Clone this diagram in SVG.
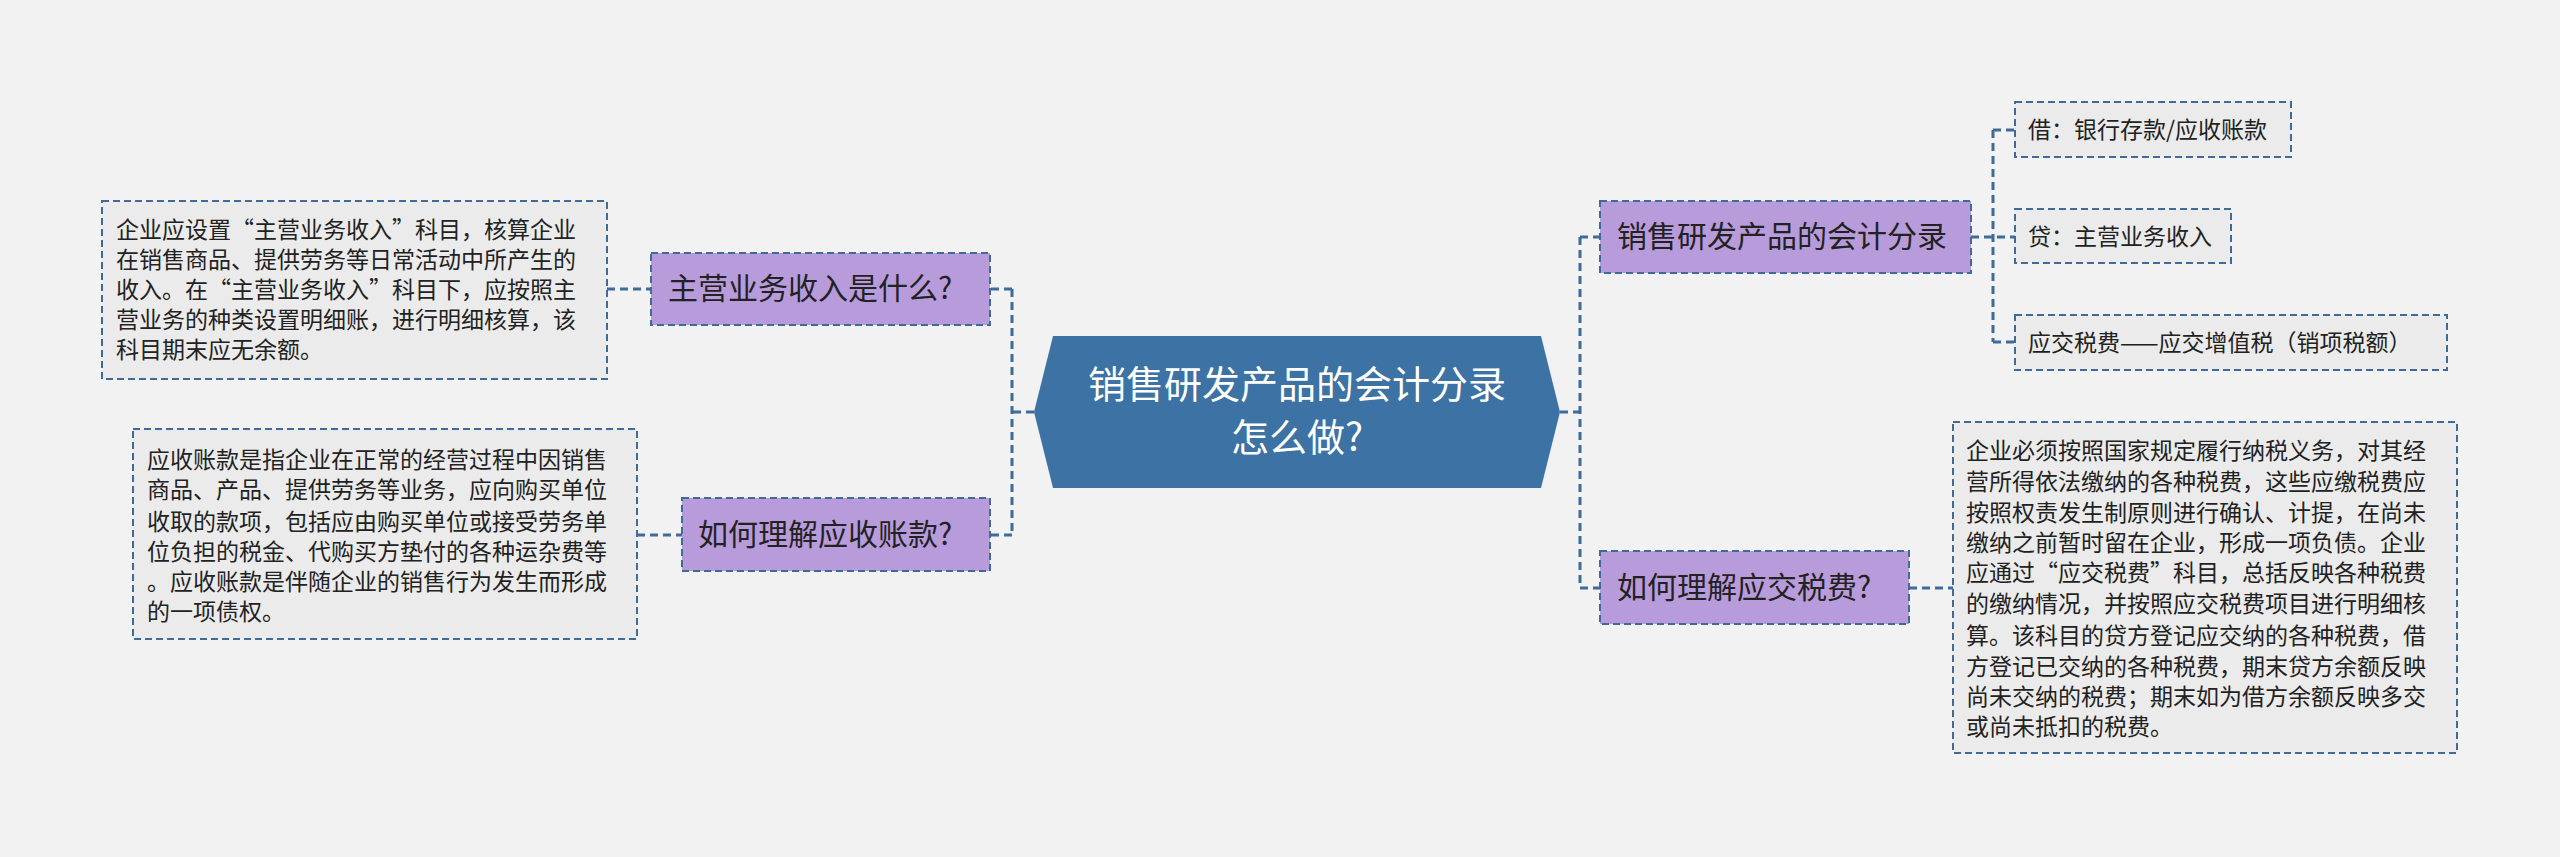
<svg xmlns="http://www.w3.org/2000/svg" width="2560" height="857" viewBox="0 0 2560 857">
<style>
text{font-family:"Noto Sans CJK SC","Noto Sans",sans-serif;fill:#222}
.n{fill:#b89bdb;stroke:#3e6b9a;stroke-width:2;stroke-dasharray:7 4}
.b{fill:#ebebeb;stroke:#3e6b9a;stroke-width:2;stroke-dasharray:7 4}
.c{fill:none;stroke:#3e6b9a;stroke-width:3;stroke-dasharray:8 5}
.t{font-size:23px}
.l{font-size:30px}
</style>
<rect width="2560" height="857" fill="#f2f2f3"/>
<g id="connectors">
<path class="c" d="M1034 412H1012M1012 289V535M1012 289H990M1012 535H990"/>
<path class="c" d="M1560 412H1580M1580 237V588M1580 237H1600M1580 588H1600"/>
<path class="c" d="M607 289H651M637 535H682M1909 588H1953"/>
<path class="c" d="M1971 237H2015M1993 130V342M1993 130H2015M1993 342H2015"/>
</g>
<g id="center">
<polygon points="1053,336 1541,336 1560,412 1541,488 1053,488 1034,412" fill="#3d72a4"/>
<text x="1297" y="398" text-anchor="middle" style="font-size:38px;fill:#fff">销售研发产品的会计分录</text>
<text x="1297" y="451" text-anchor="middle" style="font-size:38px;fill:#fff">怎么做?</text>
</g>
<g id="n1">
<rect class="n" x="651" y="253" width="339" height="72"/>
<text class="l" x="668" y="299">主营业务收入是什么?</text>
</g>
<g id="b1">
<rect class="b" x="102" y="201" width="505" height="178"/>
<text class="t"><tspan x="116" y="238">企业应设置“主营业务收入”科目，核算企业</tspan><tspan x="116" y="268">在销售商品、提供劳务等日常活动中所产生的</tspan><tspan x="116" y="298">收入。在“主营业务收入”科目下，应按照主</tspan><tspan x="116" y="328">营业务的种类设置明细账，进行明细核算，该</tspan><tspan x="116" y="358">科目期末应无余额。</tspan></text>
</g>
<g id="n2">
<rect class="n" x="682" y="498" width="308" height="73"/>
<text class="l" x="698" y="545">如何理解应收账款?</text>
</g>
<g id="b2">
<rect class="b" x="133" y="429" width="504" height="210"/>
<text class="t"><tspan x="147" y="468">应收账款是指企业在正常的经营过程中因销售</tspan><tspan x="147" y="498">商品、产品、提供劳务等业务，应向购买单位</tspan><tspan x="147" y="530">收取的款项，包括应由购买单位或接受劳务单</tspan><tspan x="147" y="560">位负担的税金、代购买方垫付的各种运杂费等</tspan><tspan x="147" y="590">。应收账款是伴随企业的销售行为发生而形成</tspan><tspan x="147" y="620">的一项债权。</tspan></text>
</g>
<g id="n3">
<rect class="n" x="1600" y="201" width="371" height="72"/>
<text class="l" x="1617" y="247">销售研发产品的会计分录</text>
</g>
<g id="l1">
<rect class="b" x="2015" y="102" width="276" height="55"/>
<text class="t" x="2028" y="138">借：银行存款/应收账款</text>
</g>
<g id="l2">
<rect class="b" x="2015" y="209" width="216" height="54"/>
<text class="t" x="2028" y="245">贷：主营业务收入</text>
</g>
<g id="l3">
<rect class="b" x="2015" y="315" width="432" height="55"/>
<text class="t" x="2028" y="351">应交税费——应交增值税（销项税额）</text>
</g>
<g id="n4">
<rect class="n" x="1600" y="551" width="309" height="73"/>
<text class="l" x="1617" y="598">如何理解应交税费?</text>
</g>
<g id="b3">
<rect class="b" x="1953" y="422" width="504" height="331"/>
<text class="t"><tspan x="1966" y="459">企业必须按照国家规定履行纳税义务，对其经</tspan><tspan x="1966" y="490">营所得依法缴纳的各种税费，这些应缴税费应</tspan><tspan x="1966" y="521">按照权责发生制原则进行确认、计提，在尚未</tspan><tspan x="1966" y="551">缴纳之前暂时留在企业，形成一项负债。企业</tspan><tspan x="1966" y="581">应通过“应交税费”科目，总括反映各种税费</tspan><tspan x="1966" y="612">的缴纳情况，并按照应交税费项目进行明细核</tspan><tspan x="1966" y="644">算。该科目的贷方登记应交纳的各种税费，借</tspan><tspan x="1966" y="675">方登记已交纳的各种税费，期末贷方余额反映</tspan><tspan x="1966" y="705">尚未交纳的税费；期末如为借方余额反映多交</tspan><tspan x="1966" y="735">或尚未抵扣的税费。</tspan></text>
</g>
</svg>
